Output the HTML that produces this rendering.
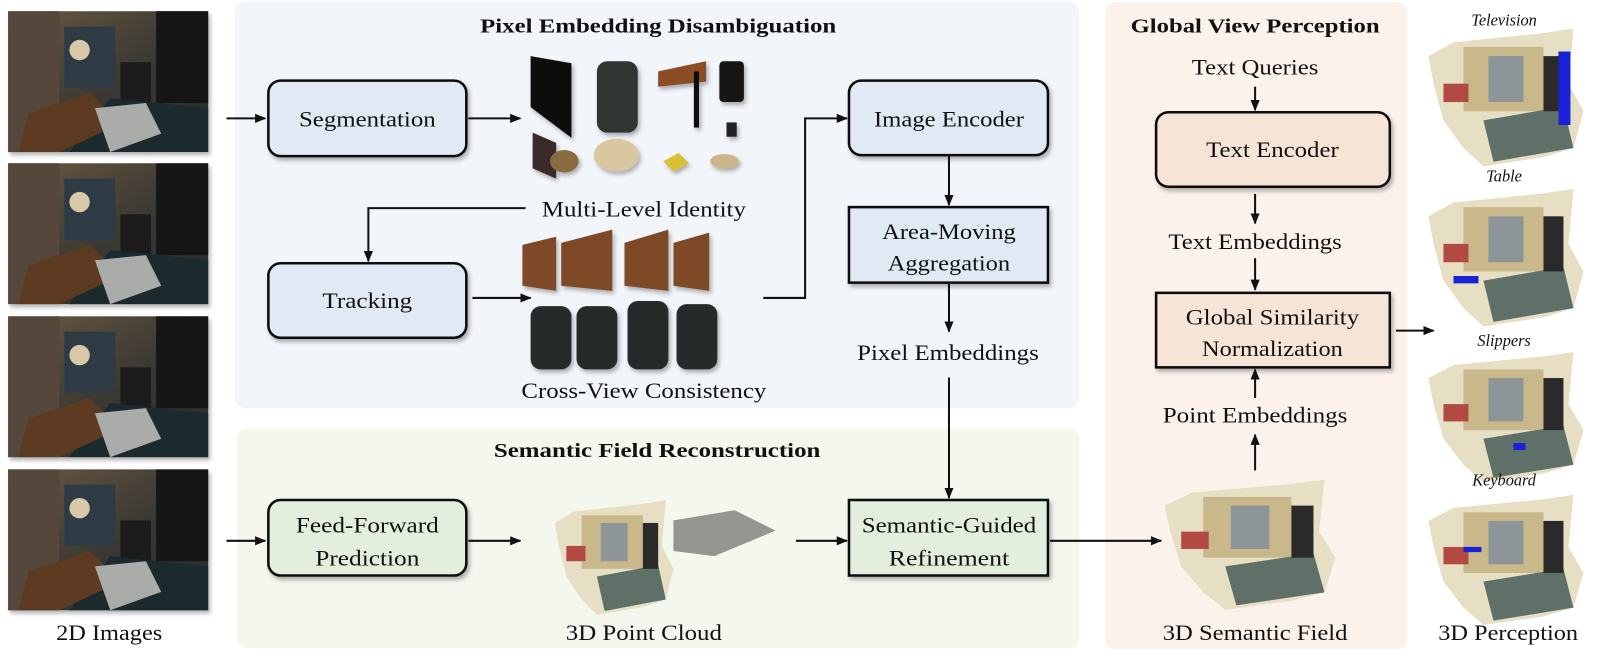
<!DOCTYPE html>
<html><head><meta charset="utf-8"><style>
html,body{margin:0;padding:0;background:#fff}
svg{display:block}
text{font-family:"Liberation Serif",serif;fill:#111}
</style></head><body>
<svg width="1600" height="660" viewBox="0 0 1600 660" xmlns="http://www.w3.org/2000/svg">
<defs>
<marker id="a" markerWidth="12" markerHeight="12" refX="10" refY="6" orient="auto" markerUnits="userSpaceOnUse"><path d="M0,1.5 L11,6 L0,10.5 z" fill="#111"/></marker>
<filter id="sh" x="-10%" y="-10%" width="130%" height="140%"><feDropShadow dx="2" dy="3" stdDeviation="2" flood-color="#000" flood-opacity="0.3"/></filter>
<linearGradient id="room" x1="0" y1="0" x2="1" y2="1"><stop offset="0" stop-color="#6b5a40"/><stop offset="0.5" stop-color="#3d3a34"/><stop offset="1" stop-color="#1f2a2a"/></linearGradient>
<g id="photo">
<rect width="196" height="138" fill="url(#room)"/>
<rect x="0" y="0" width="50" height="138" fill="#54463a"/>
<rect x="55" y="15" width="50" height="60" fill="#2f3a44"/>
<rect x="145" y="0" width="51" height="90" fill="#141414"/>
<rect x="110" y="50" width="30" height="40" fill="#1a1a1a"/>
<polygon points="60,138 100,85 196,95 196,138" fill="#1d2b2d"/>
<polygon points="20,100 80,80 110,110 50,138 10,138" fill="#5c3b22"/>
<polygon points="85,95 135,90 150,120 100,138" fill="#a9aca8"/>
<circle cx="70" cy="38" r="10" fill="#d8c8a8"/>
</g>
<g id="view">
<polygon points="5,30 30,15 120,5 150,0 145,60 160,90 150,130 120,140 60,150 40,130 20,100 10,60" fill="#e6dfc4"/>
<rect x="40" y="20" width="80" height="70" fill="#c9b98a"/>
<rect x="65" y="30" width="35" height="50" fill="#8e9598"/>
<polygon points="60,100 140,85 150,130 70,145" fill="#5f7068"/>
<rect x="120" y="30" width="20" height="60" fill="#2a2a2a"/>
<rect x="20" y="60" width="25" height="20" fill="#b24a42"/>
</g>
</defs>
<g transform="scale(1.0204)">
<rect x="230" y="2" width="828" height="398" rx="10" fill="#f2f5fa"/>
<rect x="232" y="420" width="826" height="215" rx="10" fill="#f3f7ee"/>
<rect x="1083" y="2" width="296" height="634" rx="10" fill="#fcf2ec"/>

<g filter="url(#sh)">
<use href="#photo" x="8" y="11"/>
<use href="#photo" x="8" y="160"/>
<use href="#photo" x="8" y="310"/>
<use href="#photo" x="8" y="460"/>
</g>

<g filter="url(#sh)">
<polygon points="520,55 560,62 560,135 520,105" fill="#0c0c0c"/>
<rect x="585" y="60" width="40" height="70" rx="10" fill="#2e3433"/>
<polygon points="645,70 692,60 692,80 645,85" fill="#8a4d26"/>
<rect x="680" y="70" width="5" height="55" fill="#111"/>
<rect x="705" y="60" width="24" height="40" rx="4" fill="#151515"/>
<rect x="712" y="120" width="10" height="14" fill="#222"/>
<polygon points="522,130 545,140 545,175 522,165" fill="#3a2a2a"/>
<ellipse cx="553" cy="158" rx="14" ry="11" fill="#8a6a40"/>
<ellipse cx="604" cy="152" rx="22" ry="16" fill="#d8c7a0"/>
<polygon points="650,158 665,150 675,160 660,168" fill="#d8c030"/>
<ellipse cx="710" cy="158" rx="14" ry="7" fill="#cdb58a"/>
</g>
<g filter="url(#sh)">
<polygon points="512,240 545,232 545,285 512,280" fill="#7e4a26"/>
<polygon points="550,238 600,225 600,285 550,280" fill="#7e4a26"/>
<polygon points="612,238 655,225 655,285 612,280" fill="#7e4a26"/>
<polygon points="660,238 695,228 695,285 660,280" fill="#7e4a26"/>
<rect x="520" y="300" width="40" height="62" rx="10" fill="#262c2c"/>
<rect x="565" y="300" width="40" height="62" rx="10" fill="#262c2c"/>
<rect x="615" y="295" width="40" height="67" rx="10" fill="#262c2c"/>
<rect x="663" y="298" width="40" height="64" rx="10" fill="#262c2c"/>
</g>

<g transform="translate(540,490) scale(0.75)"><use href="#view"/></g>
<polygon points="660,510 720,500 760,520 700,545 660,540" fill="#555" opacity="0.6"/>
<g transform="translate(1136,470) scale(1.08,0.85)"><use href="#view"/></g>
<g transform="translate(1395,28) scale(0.98,0.9)"><use href="#view"/><rect x="135" y="25" width="12" height="80" fill="#1a22d8"/></g>
<g transform="translate(1395,185) scale(0.98,0.9)"><use href="#view"/><rect x="30" y="95" width="25" height="8" fill="#1a22d8"/></g>
<g transform="translate(1395,345) scale(0.98,0.85)"><use href="#view"/><rect x="90" y="105" width="12" height="8" fill="#1a22d8"/></g>
<g transform="translate(1395,485) scale(0.98,0.85)"><use href="#view"/><rect x="40" y="60" width="18" height="6" fill="#1a22d8"/></g>

<g stroke="#111" stroke-width="2.5" filter="url(#sh)">
<rect x="263" y="79" width="194" height="74" rx="12" fill="#e1eaf4"/>
<rect x="263" y="258" width="194" height="73" rx="12" fill="#e1eaf4"/>
<rect x="832" y="79" width="195" height="73" rx="12" fill="#e1eaf4"/>
<rect x="832" y="203" width="195" height="74" fill="#e1eaf4"/>
<rect x="1133" y="110" width="229" height="73" rx="12" fill="#f6e4d7"/>
<rect x="1133" y="287" width="229" height="73" fill="#f6e4d7"/>
<rect x="263" y="490" width="194" height="74" rx="12" fill="#e3efdc"/>
<rect x="832" y="490" width="195" height="74" fill="#e3efdc"/>
</g>

<g stroke="#111" stroke-width="2" fill="none" marker-end="url(#a)">
<path d="M222,116 H260"/>
<path d="M459,116 H510"/>
<path d="M515,204 H361 V256"/>
<path d="M463,292 H520"/>
<path d="M748,292 H789 V116 H830"/>
<path d="M930,153 V201"/>
<path d="M930,278 V325"/>
<path d="M930,370 V488"/>
<path d="M222,530 H260"/>
<path d="M459,530 H510"/>
<path d="M780,530 H830"/>
<path d="M1029,530 H1138"/>
<path d="M1230,461 V426"/>
<path d="M1230,390 V362"/>
<path d="M1230,85 V108"/>
<path d="M1230,190 V219"/>
<path d="M1230,253 V284"/>
<path d="M1368,324 H1405"/>
</g>

<g font-weight="bold" font-size="20" text-anchor="middle">
<text x="645" y="32" textLength="349" lengthAdjust="spacingAndGlyphs">Pixel Embedding Disambiguation</text>
<text x="1230" y="32" textLength="244" lengthAdjust="spacingAndGlyphs">Global View Perception</text>
<text x="644" y="448" textLength="320" lengthAdjust="spacingAndGlyphs">Semantic Field Reconstruction</text>
</g>
<g font-size="22" text-anchor="middle">
<text x="360" y="124" textLength="134" lengthAdjust="spacingAndGlyphs">Segmentation</text>
<text x="360" y="302" textLength="88" lengthAdjust="spacingAndGlyphs">Tracking</text>
<text x="930" y="124" textLength="147" lengthAdjust="spacingAndGlyphs">Image Encoder</text>
<text x="930" y="234" textLength="131" lengthAdjust="spacingAndGlyphs">Area-Moving</text>
<text x="930" y="265" textLength="120" lengthAdjust="spacingAndGlyphs">Aggregation</text>
<text x="1247" y="154" textLength="130" lengthAdjust="spacingAndGlyphs">Text Encoder</text>
<text x="1247" y="318" textLength="170" lengthAdjust="spacingAndGlyphs">Global Similarity</text>
<text x="1247" y="349" textLength="138" lengthAdjust="spacingAndGlyphs">Normalization</text>
<text x="360" y="522" textLength="140" lengthAdjust="spacingAndGlyphs">Feed-Forward</text>
<text x="360" y="554" textLength="102" lengthAdjust="spacingAndGlyphs">Prediction</text>
<text x="930" y="522" textLength="171" lengthAdjust="spacingAndGlyphs">Semantic-Guided</text>
<text x="930" y="554" textLength="118" lengthAdjust="spacingAndGlyphs">Refinement</text>
<text x="631" y="212" textLength="200" lengthAdjust="spacingAndGlyphs">Multi-Level Identity</text>
<text x="631" y="390" textLength="240" lengthAdjust="spacingAndGlyphs">Cross-View Consistency</text>
<text x="929" y="353" textLength="178" lengthAdjust="spacingAndGlyphs">Pixel Embeddings</text>
<text x="1230" y="73" textLength="124" lengthAdjust="spacingAndGlyphs">Text Queries</text>
<text x="1230" y="244" textLength="170" lengthAdjust="spacingAndGlyphs">Text Embeddings</text>
<text x="1230" y="414" textLength="181" lengthAdjust="spacingAndGlyphs">Point Embeddings</text>
<text x="107" y="627" textLength="104" lengthAdjust="spacingAndGlyphs">2D Images</text>
<text x="631" y="627" textLength="153" lengthAdjust="spacingAndGlyphs">3D Point Cloud</text>
<text x="1230" y="627" textLength="181" lengthAdjust="spacingAndGlyphs">3D Semantic Field</text>
<text x="1478" y="627" textLength="137" lengthAdjust="spacingAndGlyphs">3D Perception</text>
</g>
<g font-size="16" font-style="italic" text-anchor="middle">
<text x="1474" y="25">Television</text>
<text x="1474" y="178">Table</text>
<text x="1474" y="339">Slippers</text>
<text x="1474" y="476">Keyboard</text>
</g>
</g>
</svg>
</body></html>
